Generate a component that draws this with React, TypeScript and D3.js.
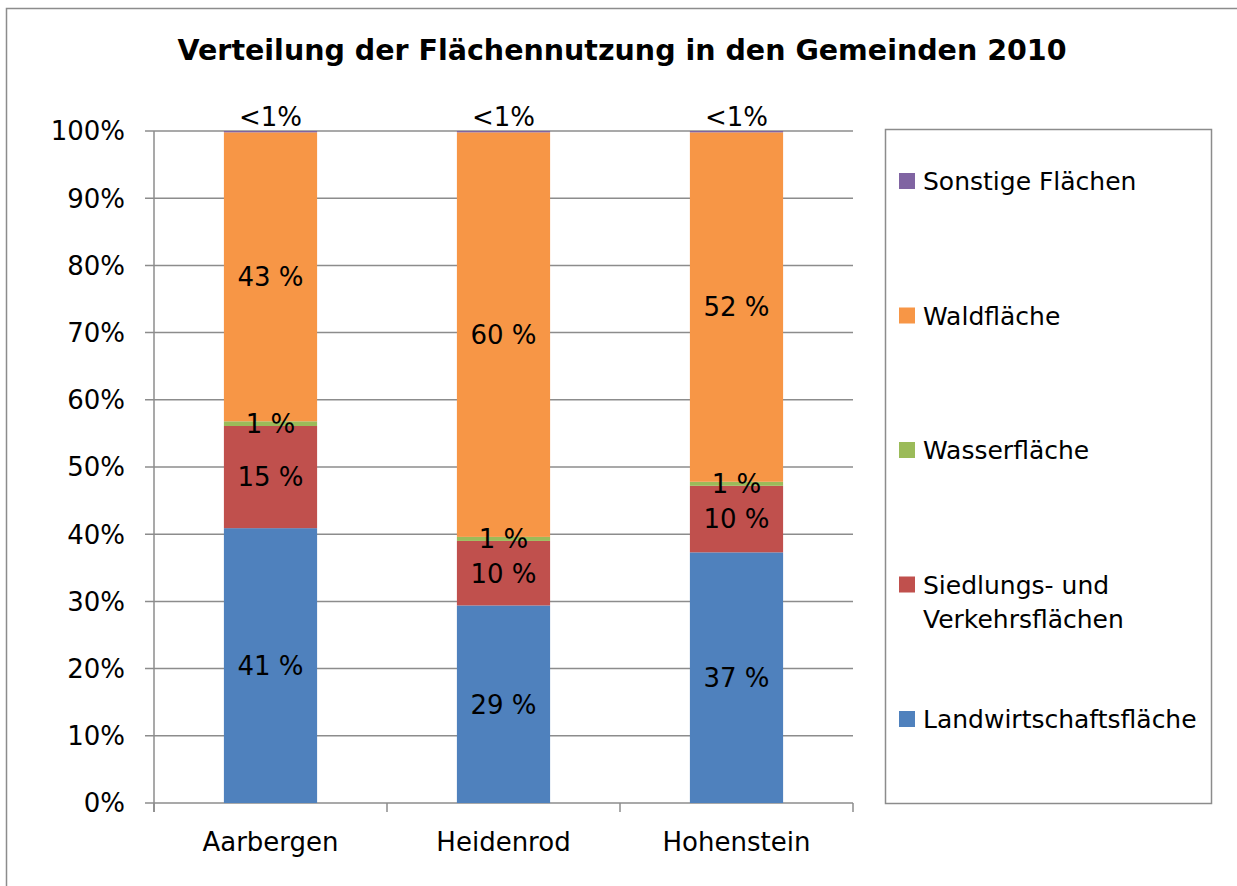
import React, { useEffect, useRef } from 'react';
import * as d3 from 'd3';

const categories = ['Aarbergen', 'Heidenrod', 'Hohenstein'];
const seriesNames = [
  'Landwirtschaftsfläche',
  'Siedlungs- und Verkehrsflächen',
  'Wasserfläche',
  'Waldfläche',
  'Sonstige Flächen'
];
const landwirtschaft = [40.9, 29.4, 37.3];
const siedlung = [15.2, 9.6, 9.9];
const wasser = [0.7, 0.6, 0.6];
const wald = [43.0, 60.2, 52.0];
const sonstige = [0.2, 0.2, 0.2];
const yTicks = [0, 10, 20, 30, 40, 50, 60, 70, 80, 90, 100];

const colors = ['#4F81BD', '#C0504D', '#9BBB59', '#F79646', '#8064A2'];
const FONT = "'DejaVu Sans', Tahoma, sans-serif";

const Chart: React.FC = () => {
  const svgRef = useRef<SVGSVGElement>(null);

  useEffect(() => {
    if (!svgRef.current) return;
    d3.select(svgRef.current).selectAll('*').remove();

    const width = 1237;
    const height = 886;
    const svg = d3.select(svgRef.current).attr('width', width).attr('height', height);

    // outer chart border
    svg.append('rect')
      .attr('x', 6.5).attr('y', 8.5)
      .attr('width', width + 20).attr('height', height + 20)
      .attr('fill', 'white').attr('stroke', '#8c8c8c').attr('stroke-width', 1.5);

    svg.append('text')
      .attr('x', 622).attr('y', 60)
      .attr('text-anchor', 'middle')
      .style('font-family', FONT)
      .style('font-weight', 'bold')
      .style('font-size', '28.5px')
      .text('Verteilung der Flächennutzung in den Gemeinden 2010');

    const margin = { left: 154, right: 853, top: 131, bottom: 803 };

    const x = d3.scaleBand().domain(categories).range([margin.left, margin.right]).paddingInner(0).paddingOuter(0);
    const y = d3.scaleLinear().domain([0, 100]).range([margin.bottom, margin.top]);

    // gridlines + y ticks
    svg.append('g')
      .selectAll('line')
      .data(yTicks)
      .enter().append('line')
      .attr('x1', margin.left - 9).attr('x2', margin.right)
      .attr('y1', d => y(d)).attr('y2', d => y(d))
      .attr('stroke', '#8c8c8c').attr('stroke-width', 1.5);

    svg.append('g')
      .selectAll('text')
      .data(yTicks)
      .enter().append('text')
      .attr('x', 125).attr('y', d => y(d))
      .attr('dy', '0.36em')
      .attr('text-anchor', 'end')
      .style('font-family', FONT)
      .style('font-size', '26px')
      .text(d => `${d}%`);

    // axes lines
    svg.append('line')
      .attr('x1', margin.left).attr('x2', margin.left)
      .attr('y1', margin.top).attr('y2', margin.bottom + 9)
      .attr('stroke', '#8c8c8c').attr('stroke-width', 1.5);

    const catEdges = [...categories.map(c => x(c)!), margin.right];
    svg.append('g')
      .selectAll('line')
      .data(catEdges)
      .enter().append('line')
      .attr('x1', d => d).attr('x2', d => d)
      .attr('y1', margin.bottom).attr('y2', margin.bottom + 9)
      .attr('stroke', '#8c8c8c').attr('stroke-width', 1.5);

    svg.append('g')
      .selectAll('text')
      .data(categories)
      .enter().append('text')
      .attr('x', d => x(d)! + x.bandwidth() / 2)
      .attr('y', 851)
      .attr('text-anchor', 'middle')
      .style('font-family', FONT)
      .style('font-size', '26px')
      .text(d => d);

    // stacked data
    const rows = categories.map((c, i) => ({
      cat: c,
      s0: landwirtschaft[i],
      s1: siedlung[i],
      s2: wasser[i],
      s3: wald[i],
      s4: sonstige[i]
    }));
    const keys = ['s0', 's1', 's2', 's3', 's4'];
    const stack = d3.stack<any>().keys(keys)(rows);

    const barW = x.bandwidth() * 0.4;
    const barX = (c: string) => x(c)! + (x.bandwidth() - barW) / 2;

    stack.forEach((layer, k) => {
      svg.append('g')
        .selectAll('rect')
        .data(layer)
        .enter().append('rect')
        .attr('x', d => barX(d.data.cat))
        .attr('width', barW)
        .attr('y', d => y(d[1]))
        .attr('height', d => y(d[0]) - y(d[1]))
        .attr('fill', colors[k]);
    });

    // data labels
    stack.forEach((layer, k) => {
      svg.append('g')
        .selectAll('text')
        .data(layer)
        .enter().append('text')
        .attr('x', d => barX(d.data.cat) + barW / 2)
        .attr('y', d => (k === 4 ? y(d[1]) - 5 : y((d[0] + d[1]) / 2)))
        .attr('dy', k === 4 ? '0' : '0.36em')
        .attr('text-anchor', 'middle')
        .style('font-family', FONT)
        .style('font-size', '26px')
        .text(d => {
          const v = d[1] - d[0];
          return v < 0.5 ? '<1%' : `${Math.round(v)} %`;
        });
    });

    // legend
    const legend = svg.append('g');
    legend.append('rect')
      .attr('x', 885.5).attr('y', 129.5)
      .attr('width', 326).attr('height', 674)
      .attr('fill', 'white').attr('stroke', '#8c8c8c').attr('stroke-width', 1.5);

    const legendOrder = [4, 3, 2, 1, 0];
    const legendY = d3.scalePoint<number>().domain(legendOrder).range([181, 719]);
    legendOrder.forEach(k => {
      const cy = legendY(k)!;
      legend.append('rect')
        .attr('x', 899).attr('y', cy - 8)
        .attr('width', 16).attr('height', 16)
        .attr('fill', colors[k]);
      const name = seriesNames[k];
      if (k === 1) {
        const t = legend.append('text')
          .attr('x', 923).attr('y', cy)
          .style('font-family', FONT)
          .style('font-size', '25px');
        t.append('tspan').attr('x', 923).attr('dy', '0.36em').text('Siedlungs- und');
        t.append('tspan').attr('x', 923).attr('dy', '1.36em').text('Verkehrsflächen');
      } else {
        legend.append('text')
          .attr('x', 923).attr('y', cy)
          .attr('dy', '0.36em')
          .style('font-family', FONT)
          .style('font-size', '25px')
          .text(name);
      }
    });
  }, []);

  return <svg ref={svgRef} style={{ position: 'absolute', left: 0, top: 0 }}></svg>;
};

export default function App() {
  return <Chart />;
}
